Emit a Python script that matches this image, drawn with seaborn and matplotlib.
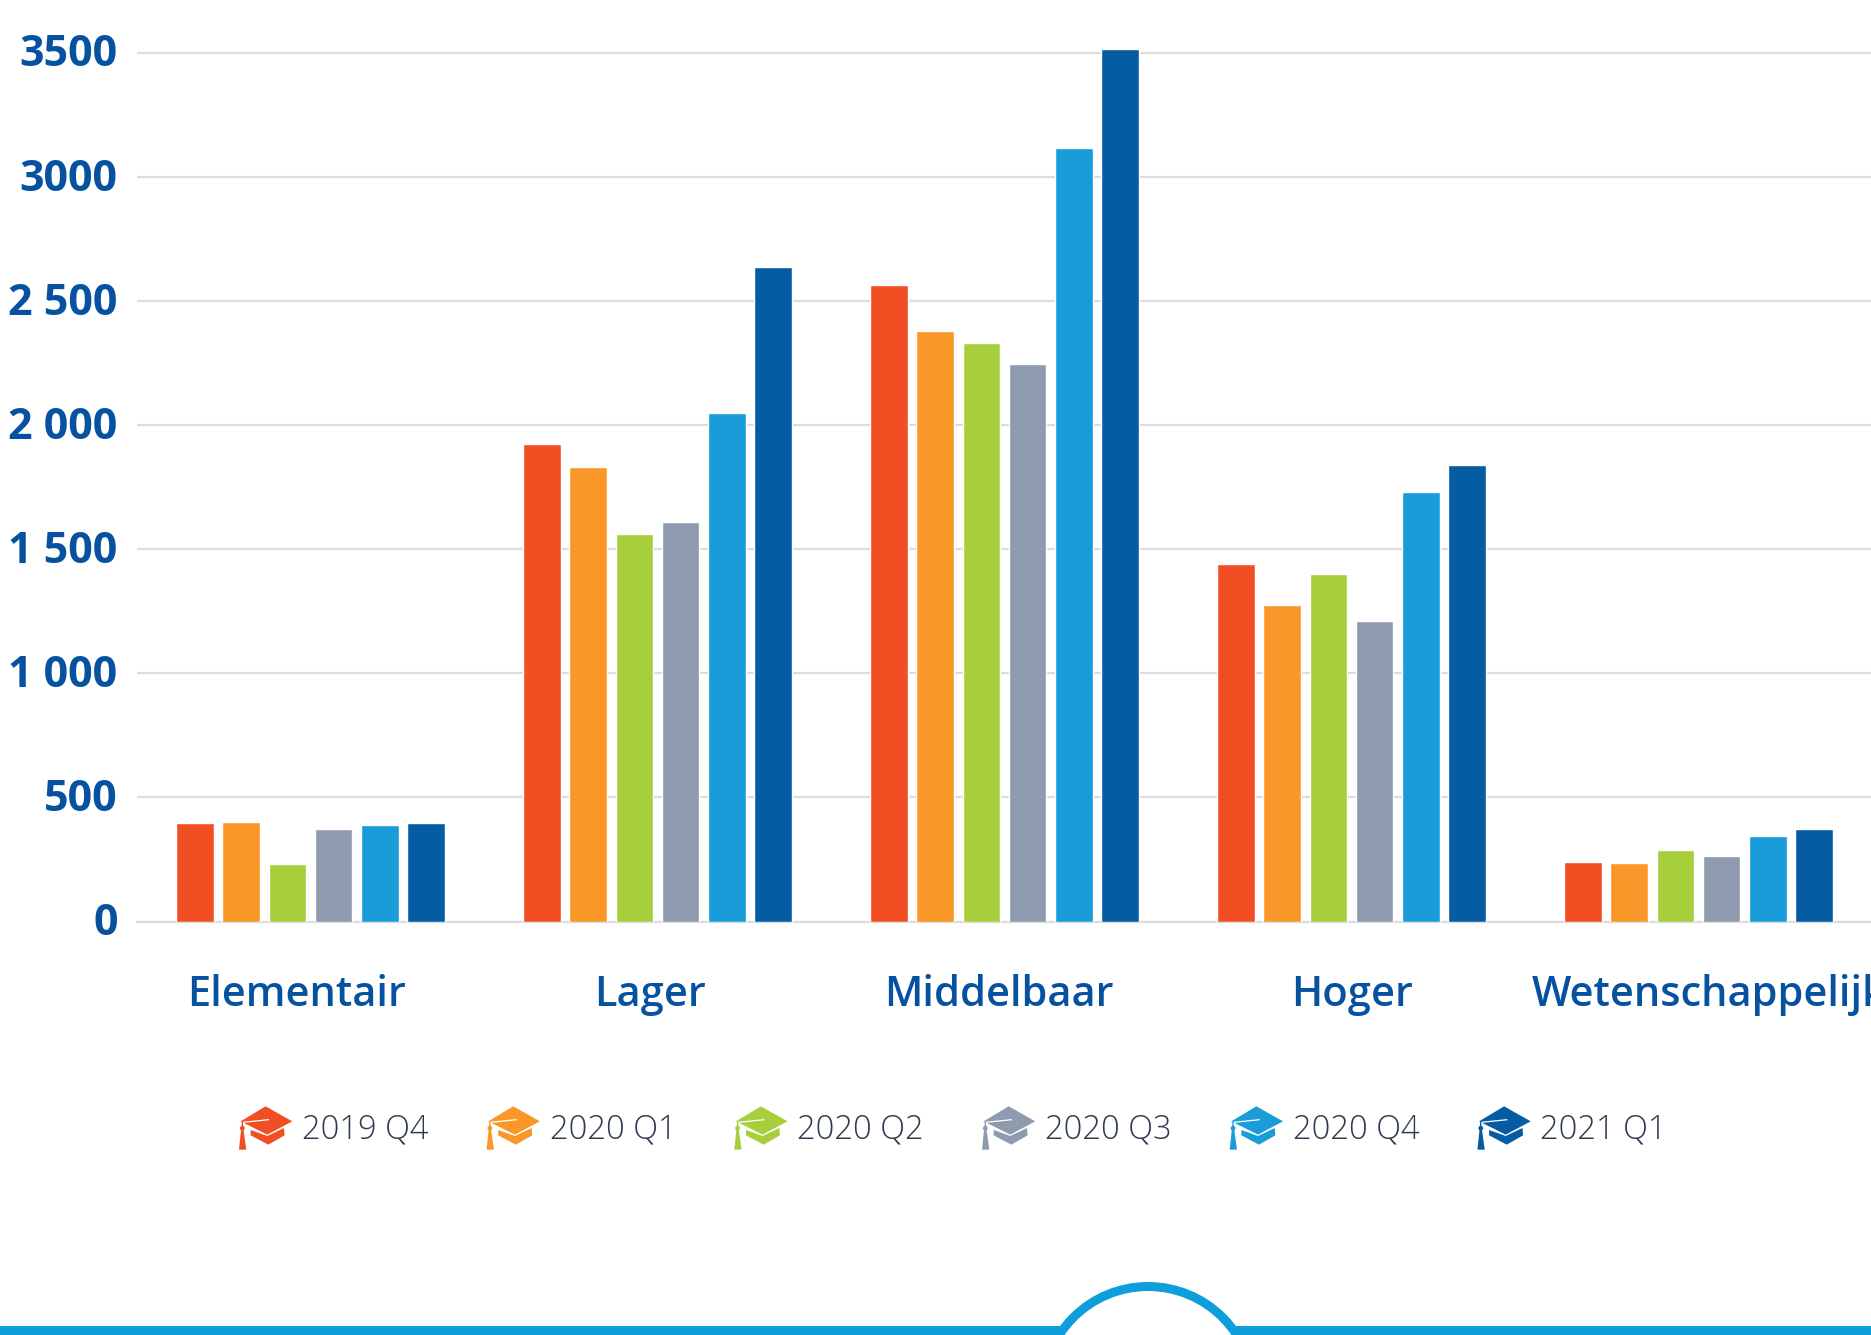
import numpy as np
import pandas as pd
import matplotlib
matplotlib.use("Agg")
import matplotlib.pyplot as plt
import seaborn as sns
from matplotlib.legend_handler import HandlerBase
from matplotlib.patches import Circle, Patch, PathPatch, Rectangle
from matplotlib.path import Path
from matplotlib.transforms import Affine2D, ScaledTranslation

# data
categories = ["Elementair", "Lager", "Middelbaar", "Hoger", "Wetenschappelijk"]
quarters = ["2019 Q4", "2020 Q1", "2020 Q2", "2020 Q3", "2020 Q4", "2021 Q1"]
q2019_4 = [397, 1926, 2565, 1440, 240]
q2020_1 = [402, 1830, 2378, 1277, 235]
q2020_2 = [233, 1561, 2332, 1402, 290]
q2020_3 = [373, 1609, 2248, 1209, 264]
q2020_4 = [387, 2051, 3118, 1729, 343]
q2021_1 = [397, 2638, 3517, 1839, 372]
y_ticks = [0, 500, 1000, 1500, 2000, 2500, 3000, 3500]
y_tick_labels = ["0", "500", "1 000", "1 500", "2 000", "2 500", "3000", "3500"]

colors = ["#F24E24", "#F99729", "#A7CF3B", "#8E9AAD", "#1A9CD9", "#065CA3"]
BLUE = "#0652A0"
GRID = "#DDDDDD"
W, H = 1871, 1335

df = pd.DataFrame(
    [q2019_4, q2020_1, q2020_2, q2020_3, q2020_4, q2021_1],
    index=quarters,
    columns=categories,
)
df = df.rename_axis("quarter").reset_index().melt("quarter", var_name="level", value_name="n")

sns.set_style("white")
plt.rcParams["font.family"] = ["Open Sans", "DejaVu Sans"]


class HandlerCap(HandlerBase):
    """Graduation cap as legend key, drawn from the handle's colour"""

    def create_artists(self, legend, orig_handle, xdescent, ydescent, width, height, fontsize, trans):
        color = orig_handle.get_facecolor()
        # shape in px of the source, origin at cap centre
        tf = (
            Affine2D().translate(-195, -148).scale(0.24, -0.24).translate(width / 2, height / 2)
            + trans
        )
        top = Path([(120, 130), (195, 85), (275, 130), (200, 170), (120, 130)], closed=True)
        low = Path(
            [(150, 156), (200, 174), (250, 150), (252, 172), (203, 200), (150, 172), (150, 156)],
            closed=True,
        )
        tassel = Path(
            [(123, 132), (127, 132), (127, 142), (133, 150), (129, 158), (137, 215), (115, 215),
             (121, 158), (117, 150), (123, 142), (123, 132)],
            closed=True,
        )
        line = Path([(127, 133), (205, 125)])
        arts = [PathPatch(p, fc=color, ec="none", transform=tf) for p in (top, low, tassel)]
        arts.append(PathPatch(line, fc="none", ec="white", lw=0.9, transform=tf))
        return arts


fig = plt.figure(figsize=(W / 100, H / 100), dpi=100)
base = 921.5
px_per_val = 868.5 / 3500
top_val = 3600
ax_h = top_val * px_per_val
ax = fig.add_axes([137 / W, (H - base) / H, 1735 / W, ax_h / H])

sns.barplot(
    data=df,
    x="level",
    y="n",
    hue="quarter",
    order=categories,
    hue_order=quarters,
    palette=colors,
    width=0.8,
    gap=0.19,
    saturation=1,
    legend=False,
    ax=ax,
    zorder=3,
)

ax.set_xlim(-0.5, 4.5)
ax.set_ylim(0, top_val)
ax.set_xlabel("")
ax.set_ylabel("")
sns.despine(ax=ax, left=True, top=True, right=True)
ax.spines["bottom"].set_color(GRID)
ax.spines["bottom"].set_linewidth(1.6)
ax.set_axisbelow(True)
ax.yaxis.grid(True, color=GRID, linewidth=1.6)
ax.xaxis.grid(False)

ax.set_yticks(y_ticks, y_tick_labels)
ax.tick_params(axis="y", length=0, pad=14, labelsize=31, labelcolor=BLUE)
nudge = ScaledTranslation(0, 3 / 100, fig.dpi_scale_trans)  # labels sit a bit above the grid lines
for t in ax.get_yticklabels():
    t.set_fontweight("bold")
    t.set_transform(t.get_transform() + nudge)

# category labels are not quite centred under the groups in the source
ax.set_xticks([-0.039, 0.978, 1.984, 3.001, 3.52], categories)
ax.tick_params(axis="x", length=0, pad=38, labelsize=30, labelcolor=BLUE)
for t in ax.get_xticklabels():
    t.set_fontweight("semibold")
ax.get_xticklabels()[-1].set_ha("left")

# legend with caps
handles = [Patch(facecolor=c) for c in colors]
fig.legend(
    handles,
    quarters,
    handler_map={Patch: HandlerCap()},
    loc="center",
    bbox_to_anchor=(953 / W, 1 - 1130 / H),
    ncol=6,
    frameon=False,
    labelcolor="#2E3A4E",
    borderpad=0,
    handlelength=1.63,
    handletextpad=0.3,
    columnspacing=1.78,
    prop={"size": 23.5, "weight": "light"},
)

# footer line with arc, in px coords
deco = fig.add_axes([0, 0, 1, 1], zorder=-1)
deco.set_xlim(0, W)
deco.set_ylim(H, 0)
deco.axis("off")
LINE = "#0D9EDB"
deco.add_patch(Rectangle((0, 1326), W, 12, fc=LINE, ec="none"))
deco.add_patch(Circle((1148, 1392), 110, fc=LINE, ec="none"))
deco.add_patch(Circle((1148, 1392), 101, fc="white", ec="none"))

fig.savefig("out.png", dpi=100)
